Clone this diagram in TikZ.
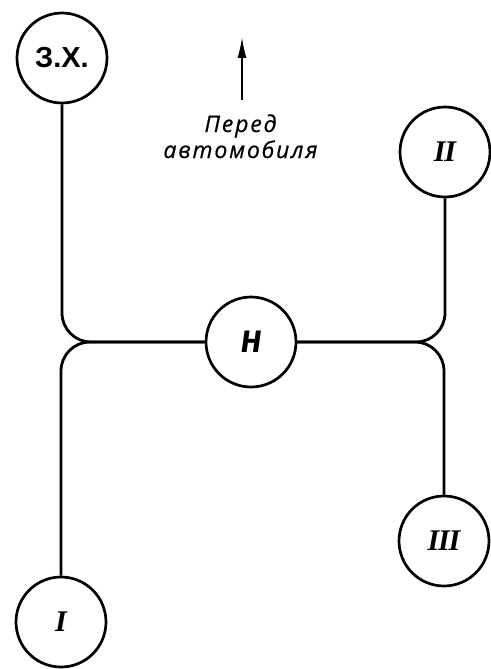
\documentclass[tikz,border=0pt]{standalone}
\usepackage{fontspec}
\setmainfont{Liberation Sans}
\newfontfamily\cursfont[LetterSpace=8,FakeBold=0.6]{Open Sans}
\newfontfamily\hfont{Fira Sans}
\newfontfamily\romfont[LetterSpace=-4]{Liberation Serif}
\usetikzlibrary{arrows.meta}
\begin{document}
\begin{tikzpicture}[x=1pt,y=-1pt,
  unit/.style={circle, draw, line width=2.7pt, minimum size=90pt, inner sep=0pt},
  link/.style={line width=2.8pt, rounded corners=29pt},
  zxlbl/.style={font=\bfseries\fontsize{29}{29}\selectfont},
  hlbl/.style={font=\hfont\bfseries\itshape\fontsize{31}{31}\selectfont},
  romlbl/.style={font=\romfont\bfseries\itshape\fontsize{30}{30}\selectfont},
  caption/.style={font=\cursfont\itshape\fontsize{23}{26}\selectfont, anchor=base, inner sep=0pt},
  pointer/.style={line width=1.8pt, -{Latex[length=21pt,width=9pt]}}]
\useasboundingbox (0,0) rectangle (490,669);
\node[unit, zxlbl] (zx) at (62,58) {З.Х.};
\node[unit, romlbl] (ii) at (445,152) {II};
\node[unit, hlbl] (h) at (251,342) {Н};
\node[unit, romlbl] (iii) at (444,541) {III};
\node[unit, romlbl] (i) at (61,622) {I};
\draw[link] (zx.south) |- (h.west);
\draw[link] (i.north) |- (h.west);
\draw[link] (ii.south) |- (h.east);
\draw[link] (iii.north) |- (h.east);
\coordinate (atail) at (242,100);
\coordinate (ahead) at (242,37);
\draw[pointer] (atail) -- (ahead);
\node[caption] (t1) at (240.5,132) {Перед};
\node[caption] (t2) at (240.5,158) {автомобиля};
\end{tikzpicture}
\end{document}
